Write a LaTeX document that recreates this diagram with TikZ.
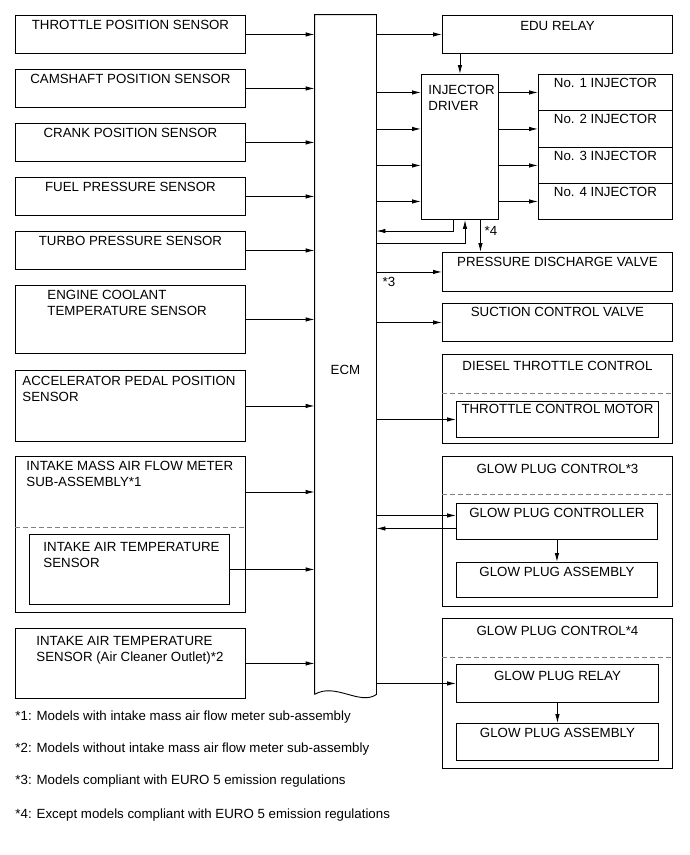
\documentclass[tikz,border=0pt]{standalone}
\usepackage{fontspec}
\setmainfont{Liberation Sans}
\usetikzlibrary{arrows.meta,calc}

\begin{document}
\begin{tikzpicture}[x=1pt,y=-1pt,>={Latex[length=9pt,width=4.5pt]},line width=0.9pt,
  font=\fontsize{13.3}{15.5}\selectfont,
  box/.style={draw,anchor=north west,inner sep=0,minimum width=230},
  lbl/.style={anchor=north,inner sep=0,yshift=-#1},
  lbl/.default=5pt,
  lbll/.style={anchor=north west,inner sep=0,align=left},
  sepline/.style={gray,line width=0.8pt,dash pattern=on 5pt off 3pt}]
  \useasboundingbox (0,0) rectangle (690,855);

  % sensors
  \node[box,minimum height=38,label={[lbl]north:THROTTLE POSITION SENSOR}] (tps) at (15,15) {};
  \node[box,minimum height=38,label={[lbl]north:CAMSHAFT POSITION SENSOR}] (cmp) at (15,69) {};
  \node[box,minimum height=38,label={[lbl]north:CRANK POSITION SENSOR}] (ckp) at (15,123) {};
  \node[box,minimum height=38,label={[lbl]north:FUEL PRESSURE SENSOR}] (fps) at (15,177) {};
  \node[box,minimum height=38,label={[lbl]north:TURBO PRESSURE SENSOR}] (tbs) at (15,231) {};
  \node[box,minimum height=68,label={[lbll,xshift=32pt,yshift=-5pt]north west:ENGINE COOLANT\\TEMPERATURE SENSOR}] (ect) at (15,285) {};
  \node[box,minimum height=71,label={[lbll,xshift=7pt,yshift=-6pt]north west:ACCELERATOR PEDAL POSITION\\SENSOR}] (app) at (15,370) {};
  \node[box,minimum height=156,label={[lbll,xshift=11pt,yshift=-5pt]north west:INTAKE MASS AIR FLOW METER\\SUB-ASSEMBLY*1}] (maf) at (15,456) {};
  \draw[sepline] ($(maf.north west)+(0,71)$) -- ($(maf.north east)+(0,71)$);
  \node[box,minimum width=200,minimum height=70,label={[lbll,xshift=14pt,yshift=-8pt]north west:INTAKE AIR TEMPERATURE\\SENSOR}] (iat) at (29,534) {};
  \node[box,minimum height=70,label={[lbll,xshift=21pt,yshift=-8pt]north west:INTAKE AIR TEMPERATURE\\SENSOR (Air Cleaner Outlet)*2}] (iatac) at (15,628) {};

  % ECM
  \node[minimum width=61,minimum height=679,inner sep=0] (ecm) at (345.5,354.5) {};
  \node (ecmlbl) at (345.5,370) {ECM};
  \draw (ecm.south west) -- (ecm.north west) -- (ecm.north east) -- (ecm.south east)
    .. controls (360,706) and (335,682) .. (ecm.south west);

  % actuators
  \node[box,minimum height=38,label={[lbl=6pt]north:EDU RELAY}] (edu) at (442,15) {};
  \node[box,minimum width=77,minimum height=145,label={[lbll,xshift=7pt,yshift=-11pt]north west:INJECTOR\\DRIVER}] (drv) at (421,74) {};
  \node[box,minimum width=134,minimum height=36,label={[lbl=4pt]north:No. 1 INJECTOR}] (inj1) at (538,74) {};
  \node[box,minimum width=134,minimum height=37,label={[lbl=4pt]north:No. 2 INJECTOR}] (inj2) at (538,110) {};
  \node[box,minimum width=134,minimum height=36,label={[lbl=4pt]north:No. 3 INJECTOR}] (inj3) at (538,147) {};
  \node[box,minimum width=134,minimum height=36,label={[lbl=4pt]north:No. 4 INJECTOR}] (inj4) at (538,183) {};
  \node[box,minimum height=39,label={[lbl]north:PRESSURE DISCHARGE VALVE}] (pdv) at (442,252) {};
  \node[box,minimum height=38,label={[lbl=4pt]north:SUCTION CONTROL VALVE}] (scv) at (442,303) {};
  \node[box,minimum height=89,label={[lbl=7pt]north:DIESEL THROTTLE CONTROL}] (dtc) at (442,354) {};
  \draw[sepline] ($(dtc.north west)+(0,39)$) -- ($(dtc.north east)+(0,39)$);
  \node[box,minimum width=202,minimum height=36,label={[lbl=3pt]north:THROTTLE CONTROL MOTOR}] (tcm) at (456,401) {};
  \node[box,minimum height=150,label={[lbl=8pt]north:GLOW PLUG CONTROL*3}] (gpc3) at (442,456) {};
  \draw[sepline] ($(gpc3.north west)+(0,38)$) -- ($(gpc3.north east)+(0,38)$);
  \node[box,minimum width=201,minimum height=36,label={[lbl]north:GLOW PLUG CONTROLLER}] (gctl) at (456,503) {};
  \node[box,minimum width=201,minimum height=35,label={[lbl]north:GLOW PLUG ASSEMBLY}] (gasm3) at (456,562) {};
  \node[box,minimum height=150,label={[lbl=8pt]north:GLOW PLUG CONTROL*4}] (gpc4) at (442,618) {};
  \draw[sepline] ($(gpc4.north west)+(0,39)$) -- ($(gpc4.north east)+(0,39)$);
  \node[box,minimum width=202,minimum height=38,label={[lbl=7pt]north:GLOW PLUG RELAY}] (grly) at (456,664) {};
  \node[box,minimum width=202,minimum height=37,label={[lbl]north:GLOW PLUG ASSEMBLY}] (gasm4) at (456,723) {};

  % sensor inputs
  \draw[->] (tps.east) -- (tps.east -| ecm.west);
  \draw[->] (cmp.east) -- (cmp.east -| ecm.west);
  \draw[->] (ckp.east) -- (ckp.east -| ecm.west);
  \draw[->] (fps.east) -- (fps.east -| ecm.west);
  \draw[->] (tbs.east) -- (tbs.east -| ecm.west);
  \draw[->] (ect.east) -- (ect.east -| ecm.west);
  \draw[->] (app.east) -- (app.east -| ecm.west);
  \coordinate (mafout) at ($(maf.north east)+(0,36)$);
  \draw[->] (mafout) -- (mafout -| ecm.west);
  \draw[->] (iat.east) -- (iat.east -| ecm.west);
  \draw[->] (iatac.east) -- (iatac.east -| ecm.west);

  % outputs
  \draw[->] (ecm.east |- edu.west) -- (edu.west);
  \draw[->] (edu.south -| drv.north) -- (drv.north);
  \draw[->] (ecm.east |- inj1) -- (drv.west |- inj1);
  \draw[->] (ecm.east |- inj2) -- (drv.west |- inj2);
  \draw[->] (ecm.east |- inj3) -- (drv.west |- inj3);
  \draw[->] (ecm.east |- inj4) -- (drv.west |- inj4);
  \draw[->] (drv.east |- inj1) -- (inj1.west);
  \draw[->] (drv.east |- inj2) -- (inj2.west);
  \draw[->] (drv.east |- inj3) -- (inj3.west);
  \draw[->] (drv.east |- inj4) -- (inj4.west);
  \coordinate (fbA) at (453,231);
  \coordinate (fbB) at (465,243);
  \draw[->] (fbA |- drv.south) -- (fbA) -- (fbA -| ecm.east);
  \draw[->] (ecm.east |- fbB) -- (fbB) -- (fbB |- drv.south);
  \draw[->] ([xshift=20.5pt]drv.south) -- ([xshift=20.5pt]drv.south |- pdv.north);
  \node (n4) at (491,231) {*4};
  \draw[->] (ecm.east |- pdv.west) -- (pdv.west);
  \node (n3) at (389,282) {*3};
  \draw[->] (ecm.east |- scv.west) -- (scv.west);
  \draw[->] (ecm.east |- tcm.west) -- (tcm.west);
  \coordinate (gin) at ([yshift=6pt]gctl.west);
  \coordinate (gout) at ([yshift=-7pt]gctl.west);
  \draw[->] (gin -| ecm.east) -- (gin);
  \draw[->] (gout) -- (gout -| ecm.east);
  \draw[->] (gctl.south) -- (gasm3.north);
  \draw[->] (ecm.east |- grly.west) -- (grly.west);
  \draw[->] (grly.south) -- (gasm4.north);

  % notes
  \node[anchor=west,inner sep=0] (fn1) at (15,717) {*1: Models with intake mass air flow meter sub-assembly};
  \node[anchor=west,inner sep=0] (fn2) at (15,749) {*2: Models without intake mass air flow meter sub-assembly};
  \node[anchor=west,inner sep=0] (fn3) at (15,781) {*3: Models compliant with EURO 5 emission regulations};
  \node[anchor=west,inner sep=0] (fn4) at (15,815) {*4: Except models compliant with EURO 5 emission regulations};
\end{tikzpicture}
\end{document}
